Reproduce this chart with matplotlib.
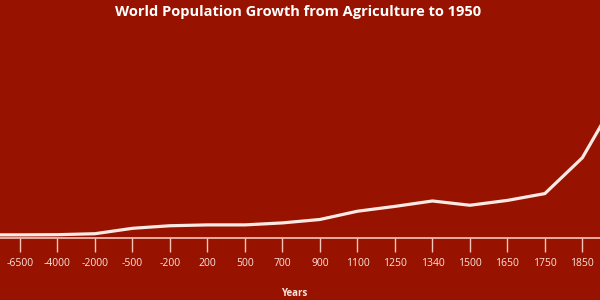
import matplotlib.pyplot as plt

# population in millions
years = ["-6500", "-4000", "-2000", "-500", "-200", "200", "500", "700", "900",
         "1100", "1250", "1340", "1500", "1650", "1750", "1850", "1950"]
population = [25, 28, 45, 140, 185, 200, 200, 235, 295,
              440, 525, 620, 545, 630, 750, 1380, 2520]

bg = "#981200"
fg = "#fbe9e4"

plt.rcParams['font.family'] = ['Open Sans', 'DejaVu Sans']

fig = plt.figure(figsize=(6, 3), dpi=100, facecolor=bg)
ax = fig.add_axes([0, 0.2067, 1, 0.7933])
ax.set_facecolor(bg)

x = list(range(len(years)))
left = -0.6
# the line runs flat in from the left edge before the first labelled year
ax.plot([left] + x, [population[0]] + population, color=fg, lw=2.3,
        solid_joinstyle="round")

ax.set_xlim(-0.533, 15.47)
ax.set_ylim(-30, 4150)

for s in ["top", "right", "left"]:
    ax.spines[s].set_visible(False)
ax.spines["bottom"].set_color("#f4c7bd")
ax.spines["bottom"].set_linewidth(1.2)

ax.set_xticks(x[:-1])
ax.set_xticklabels(years[:-1])
ax.set_yticks([])
ax.tick_params(axis="x", colors="#f4c7bd", length=10, width=1, pad=4.5,
               labelsize=7.5, labelcolor="#fbe3dc")

fig.text(0.496, 0.96, "World Population Growth from Agriculture to 1950",
         ha="center", va="center", color="white", fontsize=10.5, fontweight="bold")
fig.text(0.49, 0.022, "Years", ha="center", va="center", color="#fbe3dc",
         fontsize=7, fontweight="bold")

fig.savefig("out.png", dpi=100, facecolor=bg)
